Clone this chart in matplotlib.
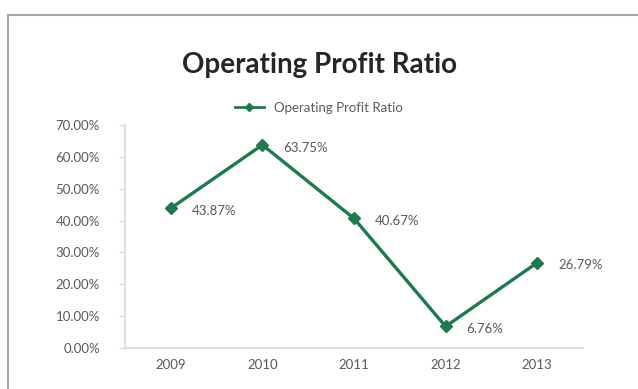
import matplotlib
matplotlib.use("Agg")
import matplotlib.pyplot as plt
from matplotlib.patches import Rectangle
from matplotlib.lines import Line2D

years = ["2009", "2010", "2011", "2012", "2013"]
ratio = [43.87, 63.75, 40.67, 6.76, 26.79]
yticks = [0, 10, 20, 30, 40, 50, 60, 70]

green = "#1d7a4e"
grey_txt = "#595959"
axis_col = "#d9d9d9"

plt.rcParams["font.family"] = ["Lato", "DejaVu Sans"]

fig = plt.figure(figsize=(6.38, 3.89), dpi=100)
fig.patch.set_facecolor("white")

# chart area frame
fig.patches.append(Rectangle((8 / 638, -0.05), 1.0, 1 - 15 / 389 + 0.05,
                             transform=fig.transFigure, fill=False,
                             edgecolor="#a6a6a6", linewidth=1.5))

ax = fig.add_axes([125 / 638, 41 / 389, 458 / 638, 223 / 389])
x = range(len(years))
ax.plot(x, ratio, color=green, linewidth=2.4, marker="D", markersize=6.5,
        markerfacecolor=green, markeredgecolor=green)

for xi, v in zip(x, ratio):
    ax.annotate(f"{v:.2f}%", (xi, v), xytext=(15, -2), textcoords="offset points",
                ha="left", va="center", fontsize=9.5, color=grey_txt)

ax.set_xlim(-0.5, len(years) - 0.5)
ax.set_ylim(0, 70)
ax.set_xticks(list(x))
ax.set_xticklabels(years)
ax.set_yticks(yticks)
ax.set_yticklabels([f"{t:.2f}%" for t in yticks])

for side in ("top", "right"):
    ax.spines[side].set_visible(False)
for side in ("left", "bottom"):
    ax.spines[side].set_color(axis_col)
    ax.spines[side].set_linewidth(1.2)
ax.tick_params(axis="y", length=4, color=axis_col, pad=14, labelsize=9.5, labelcolor=grey_txt)
ax.tick_params(axis="x", length=0, pad=8, labelsize=9.5, labelcolor=grey_txt)

fig.text(0.5, 1 - 65 / 389, "Operating Profit Ratio", ha="center", va="center",
         fontsize=20, fontweight="bold", color="#262626")

handle = Line2D([], [], color=green, linewidth=2, marker="D", markersize=4)
fig.legend([handle], ["Operating Profit Ratio"], loc="center",
           bbox_to_anchor=(0.5, 1 - 108 / 389), frameon=False, fontsize=9.5,
           labelcolor=grey_txt, handlelength=2.2, handletextpad=0.8)

fig.savefig("out.png", dpi=100)
